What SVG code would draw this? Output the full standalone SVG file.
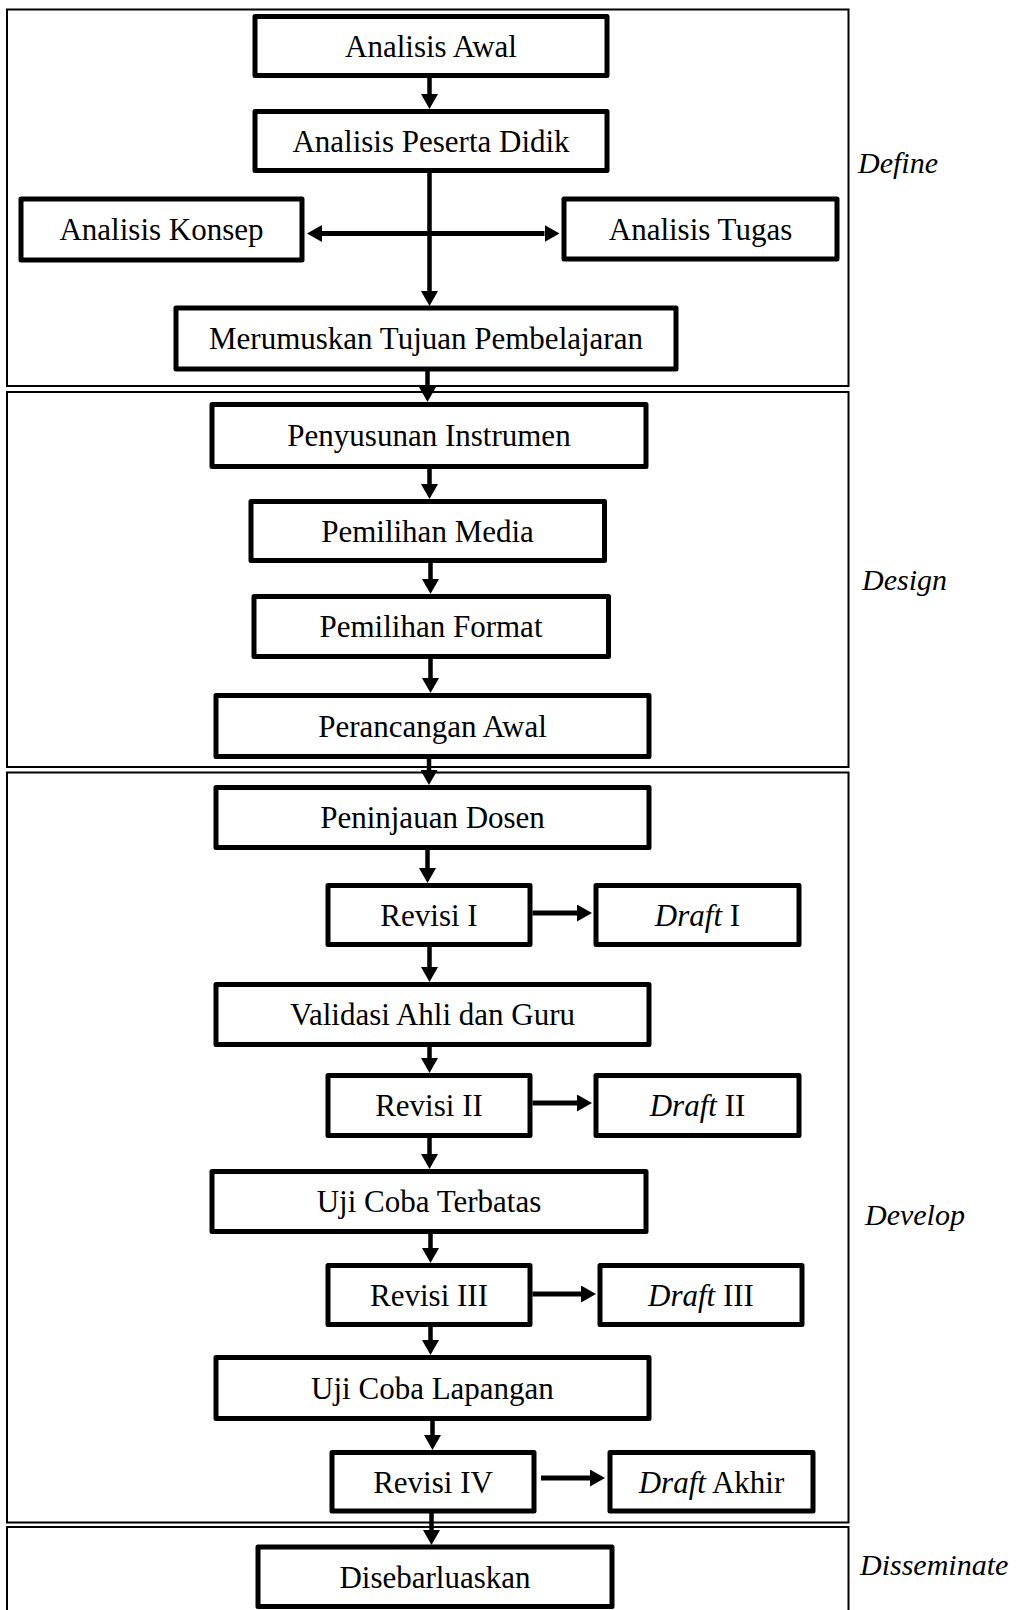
<svg xmlns="http://www.w3.org/2000/svg" width="1018" height="1610" viewBox="0 0 1018 1610">
<style>
.frame{fill:none;stroke:#000;stroke-width:2}
.box{fill:#fff;stroke:#000;stroke-width:5;stroke-linejoin:round}
.t{font-family:"Liberation Serif","Times New Roman",serif;font-size:31px;fill:#000;text-anchor:middle}
.lbl{font-family:"Liberation Serif","Times New Roman",serif;font-size:30px;font-style:italic;fill:#000}
.v{stroke:#000;stroke-width:4.5;fill:none}
.h{stroke:#000;stroke-width:5;fill:none}
.i{font-style:italic}
</style>
<defs>
<marker id="ah" markerUnits="userSpaceOnUse" markerWidth="15" markerHeight="17" viewBox="0 0 15 17" refX="0" refY="8.5" orient="auto-start-reverse">
<path d="M0,0 L15,8.5 L0,17 z" fill="#000"/>
</marker>
</defs>
<rect width="1018" height="1610" fill="#fff"/>
<g id="phases">
<rect id="frame-define" class="frame" x="7" y="9.5" width="841.5" height="376.5"/>
<rect id="frame-design" class="frame" x="7" y="392" width="841.5" height="375"/>
<rect id="frame-develop" class="frame" x="7" y="772.5" width="841.5" height="750"/>
<rect id="frame-disseminate" class="frame" x="7" y="1527" width="841.5" height="90"/>
<text class="lbl" x="858" y="173">Define</text>
<text class="lbl" x="862" y="590">Design</text>
<text class="lbl" x="865" y="1225">Develop</text>
<text class="lbl" x="860" y="1575">Disseminate</text>
</g>
<g id="connectors">
<line class="v" x1="429.5" y1="75.5" x2="429.5" y2="94" marker-end="url(#ah)"/>
<line class="v" x1="429.5" y1="170.5" x2="429.5" y2="291" marker-end="url(#ah)"/>
<line class="h" x1="322" y1="233.5" x2="544.5" y2="233.5" marker-start="url(#ah)" marker-end="url(#ah)"/>
<line class="v" x1="427.5" y1="369" x2="427.5" y2="387" marker-end="url(#ah)"/>
<line class="v" x1="429.5" y1="466.5" x2="429.5" y2="484" marker-end="url(#ah)"/>
<line class="v" x1="430.5" y1="560.5" x2="430.5" y2="579" marker-end="url(#ah)"/>
<line class="v" x1="430.5" y1="656.5" x2="430.5" y2="678" marker-end="url(#ah)"/>
<line class="v" x1="429" y1="756.5" x2="429" y2="770" marker-end="url(#ah)"/>
<line class="v" x1="427.5" y1="847.5" x2="427.5" y2="868" marker-end="url(#ah)"/>
<line class="h" x1="532.5" y1="913" x2="577" y2="913" marker-end="url(#ah)"/>
<line class="v" x1="429.5" y1="944.5" x2="429.5" y2="967" marker-end="url(#ah)"/>
<line class="v" x1="429.5" y1="1044.5" x2="429.5" y2="1058" marker-end="url(#ah)"/>
<line class="h" x1="532.5" y1="1103" x2="577" y2="1103" marker-end="url(#ah)"/>
<line class="v" x1="429.5" y1="1135.5" x2="429.5" y2="1154" marker-end="url(#ah)"/>
<line class="v" x1="430.5" y1="1231.5" x2="430.5" y2="1248" marker-end="url(#ah)"/>
<line class="h" x1="532.5" y1="1294" x2="581" y2="1294" marker-end="url(#ah)"/>
<line class="v" x1="430.5" y1="1324.5" x2="430.5" y2="1340" marker-end="url(#ah)"/>
<line class="v" x1="432.5" y1="1418.5" x2="432.5" y2="1435" marker-end="url(#ah)"/>
<line class="h" x1="541" y1="1478" x2="590" y2="1478" marker-end="url(#ah)"/>
<line class="v" x1="431.5" y1="1511" x2="431.5" y2="1530" marker-end="url(#ah)"/>
</g>
<g id="n-analisis-awal"><rect class="box" x="255" y="16.5" width="352" height="59"/><text class="t" x="431" y="56.5">Analisis Awal</text></g>
<g id="n-analisis-peserta-didik"><rect class="box" x="255" y="111.5" width="352" height="59"/><text class="t" x="431" y="151.5">Analisis Peserta Didik</text></g>
<g id="n-analisis-konsep"><rect class="box" x="21" y="199" width="281" height="61"/><text class="t" x="161.5" y="240">Analisis Konsep</text></g>
<g id="n-analisis-tugas"><rect class="box" x="564" y="199" width="273" height="60"/><text class="t" x="700.5" y="239.5">Analisis Tugas</text></g>
<g id="n-merumuskan"><rect class="box" x="176" y="308" width="500" height="61"/><text class="t" x="426" y="349">Merumuskan Tujuan Pembelajaran</text></g>
<g id="n-penyusunan-instrumen"><rect class="box" x="212" y="404.5" width="434" height="62"/><text class="t" x="429" y="446">Penyusunan Instrumen</text></g>
<g id="n-pemilihan-media"><rect class="box" x="251" y="501.5" width="353.5" height="59"/><text class="t" x="427.5" y="541.5">Pemilihan Media</text></g>
<g id="n-pemilihan-format"><rect class="box" x="254" y="596.5" width="354.5" height="60"/><text class="t" x="431" y="637">Pemilihan Format</text></g>
<g id="n-perancangan-awal"><rect class="box" x="216" y="695.5" width="433" height="61"/><text class="t" x="432.5" y="736.5">Perancangan Awal</text></g>
<g id="n-peninjauan-dosen"><rect class="box" x="216" y="787.5" width="433" height="60"/><text class="t" x="432.5" y="828">Peninjauan Dosen</text></g>
<g id="n-revisi-1"><rect class="box" x="328" y="885.5" width="202" height="59"/><text class="t" x="429" y="925.5">Revisi I</text></g>
<g id="n-draft-1"><rect class="box" x="596" y="885.5" width="203" height="59"/><text class="t" x="697.5" y="925.5"><tspan class="i">Draft</tspan> I</text></g>
<g id="n-validasi"><rect class="box" x="216" y="984.5" width="433" height="60"/><text class="t" x="432.5" y="1025">Validasi Ahli dan Guru</text></g>
<g id="n-revisi-2"><rect class="box" x="328" y="1075.5" width="202" height="60"/><text class="t" x="429" y="1116">Revisi II</text></g>
<g id="n-draft-2"><rect class="box" x="596" y="1075.5" width="203" height="60"/><text class="t" x="697.5" y="1116"><tspan class="i">Draft</tspan> II</text></g>
<g id="n-uji-coba-terbatas"><rect class="box" x="212" y="1171.5" width="434" height="60"/><text class="t" x="429" y="1212">Uji Coba Terbatas</text></g>
<g id="n-revisi-3"><rect class="box" x="328" y="1265.5" width="202" height="59"/><text class="t" x="429" y="1305.5">Revisi III</text></g>
<g id="n-draft-3"><rect class="box" x="600" y="1265.5" width="202" height="59"/><text class="t" x="701" y="1305.5"><tspan class="i">Draft</tspan> III</text></g>
<g id="n-uji-coba-lapangan"><rect class="box" x="216" y="1357.5" width="433" height="61"/><text class="t" x="432.5" y="1398.5">Uji Coba Lapangan</text></g>
<g id="n-revisi-4"><rect class="box" x="332" y="1452.5" width="202" height="58.5"/><text class="t" x="433" y="1492.5">Revisi IV</text></g>
<g id="n-draft-akhir"><rect class="box" x="610" y="1452.5" width="203" height="58.5"/><text class="t" x="711.5" y="1492.5"><tspan class="i">Draft</tspan> Akhir</text></g>
<g id="n-disebarluaskan"><rect class="box" x="258" y="1547" width="354" height="59.5"/><text class="t" x="435" y="1587.5">Disebarluaskan</text></g>
</svg>
